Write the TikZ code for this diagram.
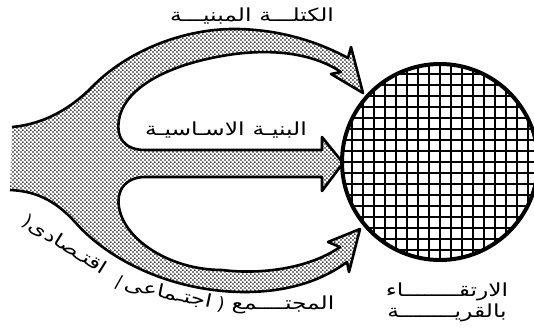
\documentclass[tikz,border=0pt]{standalone}
\usepackage{fontspec}
\usepackage{tikz}
\usetikzlibrary{patterns, positioning, calc}
\newfontfamily\arabicfont[Script=Arabic, FakeStretch=1.3]{DejaVu Sans}
\newfontfamily\latinfont{DejaVu Sans}
\TeXXeTstate=1

% fine stipple for the fork
\pgfdeclarepatternformonly{stipple}{\pgfpoint{0pt}{0pt}}{\pgfpoint{4.4pt}{4.4pt}}{\pgfpoint{4.4pt}{4.4pt}}{%
  \pgfpathcircle{\pgfpoint{1.1pt}{1.1pt}}{1.0pt}%
  \pgfpathcircle{\pgfpoint{3.3pt}{3.3pt}}{1.0pt}%
  \pgfusepath{fill}}

\def\forkpath{(12,127) .. controls (45,124) and (72,108) .. (95,84)
  .. controls (130,50) and (185,28) .. (238,29)
  .. controls (285,30) and (322,44) .. (348,58) -- (351,47) -- (363,93) -- (331,74) -- (341,72)
  .. controls (305,48) and (255,50) .. (222,56)
  .. controls (165,66) and (128,88) .. (120,115)
  .. controls (114,138) and (125,150) .. (145,150)
  -- (322,150) -- (322,137) -- (343,163) -- (322,191) -- (322,177) -- (145,177)
  .. controls (125,177) and (113,192) .. (121,215)
  .. controls (132,245) and (175,270) .. (222,270)
  .. controls (262,275) and (310,268) .. (340,247) -- (328,242) -- (360,229) -- (349,272) -- (347,262)
  .. controls (320,282) and (285,292) .. (245,292)
  .. controls (175,292) and (110,262) .. (75,222)
  .. controls (55,200) and (35,191) .. (10,190)}

\begin{document}
\begin{tikzpicture}[x=1pt, y=-1pt,
    fork/.style={line width=2.6pt, line join=round},
    village/.style={circle, draw, line width=4pt, minimum size=196pt, inner sep=0pt},
    gridline/.style={line width=1.5pt},
    label/.style={font=\arabicfont\fontsize{18}{21}\selectfont, inner sep=1pt}
  ]
  \useasboundingbox (0,0) rectangle (534,336);

  % the fork with its three arms
  \fill[pattern=stipple] \forkpath -- cycle;
  \draw[fork] \forkpath;

  % the village
  \node[village, path picture={
      \foreach \i in {-9,...,9}{
        \draw[gridline] ($(path picture bounding box.center)+(\i*11,-110)$) -- ++(0,220);
        \draw[gridline] ($(path picture bounding box.center)+(-110,\i*11)$) -- ++(220,0);
      }}] (vil) at (440,162) {};

  % Labels
  \node[label] (mass) at (252,16) {\beginR الكتلـــة\hspace{8pt}المبنيـــة\endR};
  \node[label] (infra) at (226,130) {\beginR البنيـة\hspace{8pt}الاسـاسيـة\endR};
  \node[label, align=center] (upgrade) at (447,302)
    {\beginR الارتقــــــــاء\endR\\\beginR بالقريــــــــة\endR};
  \node[label] (soc) at (283,305) {\beginR المجتــــمع\endR};
  \node[label, rotate=-12] (socA) at (170,294) {{\latinfont/}\hspace{3pt}\beginR اجتـماعى\endR\hspace{6pt}{\latinfont)}};
  \node[label, rotate=-32] (socB) at (65,245) {{\latinfont)}\beginR اقتـصادى\endR};
\end{tikzpicture}
\end{document}
